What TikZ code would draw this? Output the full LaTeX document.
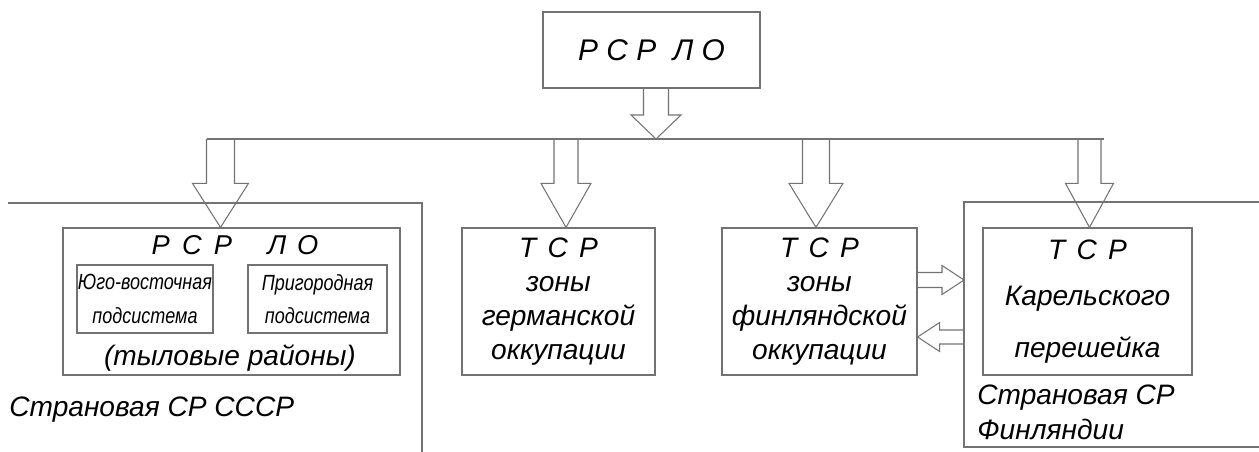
\documentclass[tikz,border=0pt]{standalone}
\usepackage{fontspec}
\setmainfont{Liberation Sans}
\usetikzlibrary{calc}

\tikzset{
  box/.style={draw=black!55, line width=0.7pt, inner sep=0pt},
  frame/.style={draw=black!55, line width=0.7pt},
  fat/.style={draw=black!55, line width=0.6pt, line join=miter},
  lbl/.style={font=\itshape\fontsize{16pt}{19.5pt}\selectfont, align=center, inner sep=0pt},
  sublbl/.style={font=\itshape\fontsize{12.5pt}{19pt}\selectfont, align=center},
}

\newcommand{\narrow}[1]{\scalebox{0.82}[1]{#1}}

% hollow block arrows: from, tip, half shaft, half head, head length
\newcommand{\fatdown}[5]{%
  \draw[fat] ($(#1)+(-#3,0)$) -- ($(#2)+(-#3,-#5)$) -- ($(#2)+(-#4,-#5)$) -- (#2)
    -- ($(#2)+(#4,-#5)$) -- ($(#2)+(#3,-#5)$) -- ($(#1)+(#3,0)$);}
\newcommand{\fatside}[5]{%
  \draw[fat] ($(#1)+(0,-#3)$) -- ($(#2)+({-(#5)},-#3)$) -- ($(#2)+({-(#5)},-#4)$) -- (#2)
    -- ($(#2)+({-(#5)},#4)$) -- ($(#2)+({-(#5)},#3)$) -- ($(#1)+(0,#3)$);}

\begin{document}
\begin{tikzpicture}[x=0.02cm, y=-0.02cm]
\useasboundingbox (0,0) rectangle (1259,452);

\node[box, lbl, font=\itshape\fontsize{17pt}{20pt}\selectfont,
      minimum width=4.34cm, minimum height=1.52cm] (top) at (651.5,50) {Р С Р\ \ Л О};

% frames of the countries
\draw[frame] (8,203) -- (422,203) -- (422,452);
\coordinate (fc) at (964,202);
\draw[frame] (1259,202) -- (fc) -- (964,447) -- (1259,447);

\node[box, minimum width=6.74cm, minimum height=2.94cm] (rsr) at (231.5,301.5) {};
\node[box, lbl, minimum width=3.86cm, minimum height=2.94cm] (germ) at (558.5,301.5)
  {Т\hspace{.4em}С\hspace{.4em}Р\\зоны\\германской\\оккупации};
\node[box, lbl, minimum width=3.9cm, minimum height=2.94cm] (finn) at (819.5,301.5)
  {Т\hspace{.4em}С\hspace{.4em}Р\\зоны\\финляндской\\оккупации};
\node[box, lbl, minimum width=4.18cm, minimum height=2.94cm] (karel) at (1087.5,301.5)
  {Т\hspace{.4em}С\hspace{.4em}Р\\[7pt]Карельского\\[10pt]перешейка};

\node[lbl, font=\itshape\fontsize{15.5pt}{18pt}\selectfont] (rsrt) at (235,245)
  {Р\hspace{.45em}С\hspace{.45em}Р\hspace{1.3em}Л\hspace{.4em}О};
\node[box, sublbl, minimum width=2.72cm, minimum height=1.36cm] (se) at (145,299)
  {\narrow{Юго-восточная}\\\narrow{подсистема}};
\node[box, sublbl, minimum width=2.78cm, minimum height=1.36cm] (sub) at (317.5,299)
  {\narrow{Пригородная}\\\narrow{подсистема}};
\node[lbl] (rear) at (230,358) {(тыловые районы)};

\node[lbl, anchor=west] (ussr) at (9,410) {Страновая СР СССР};
\node[lbl, anchor=west, align=left, font=\itshape\fontsize{16pt}{20pt}\selectfont]
  (fin) at (977,412) {Страновая СР\\Финляндии};

% bus and arrows
\coordinate (b0) at (656,139);
\coordinate (b1) at (220.5,139);
\coordinate (b2) at (566,139);
\coordinate (b3) at (816,139);
\coordinate (b4) at (1089.5,139);
\draw[frame] ($(b1)+(-14,0)$) -- ($(b4)+(14,0)$);

\coordinate (t0) at (top.south -| b0);
\fatdown{t0}{b0}{12.5}{25}{24}
\coordinate (t1) at (b1 |- rsr.north);
\coordinate (t2) at (b2 |- germ.north);
\coordinate (t3) at (b3 |- finn.north);
\coordinate (t4) at (b4 |- karel.north);
\fatdown{b1}{t1}{14}{28}{44}
\fatdown{b2}{t2}{12}{25}{44}
\fatdown{b3}{t3}{13.5}{27}{44}
\fatdown{b4}{t4}{11.5}{24}{44}

\coordinate (s1) at ($(finn.east)+(0,-21.5)$);
\coordinate (e1) at (s1 -| fc);
\coordinate (s2) at ($(finn.east)+(0,35.5)$);
\coordinate (e2) at (s2 -| fc);
\fatside{s1}{e1}{7.5}{14.5}{22}
\fatside{e2}{s2}{7}{14.5}{-22}
\end{tikzpicture}
\end{document}
